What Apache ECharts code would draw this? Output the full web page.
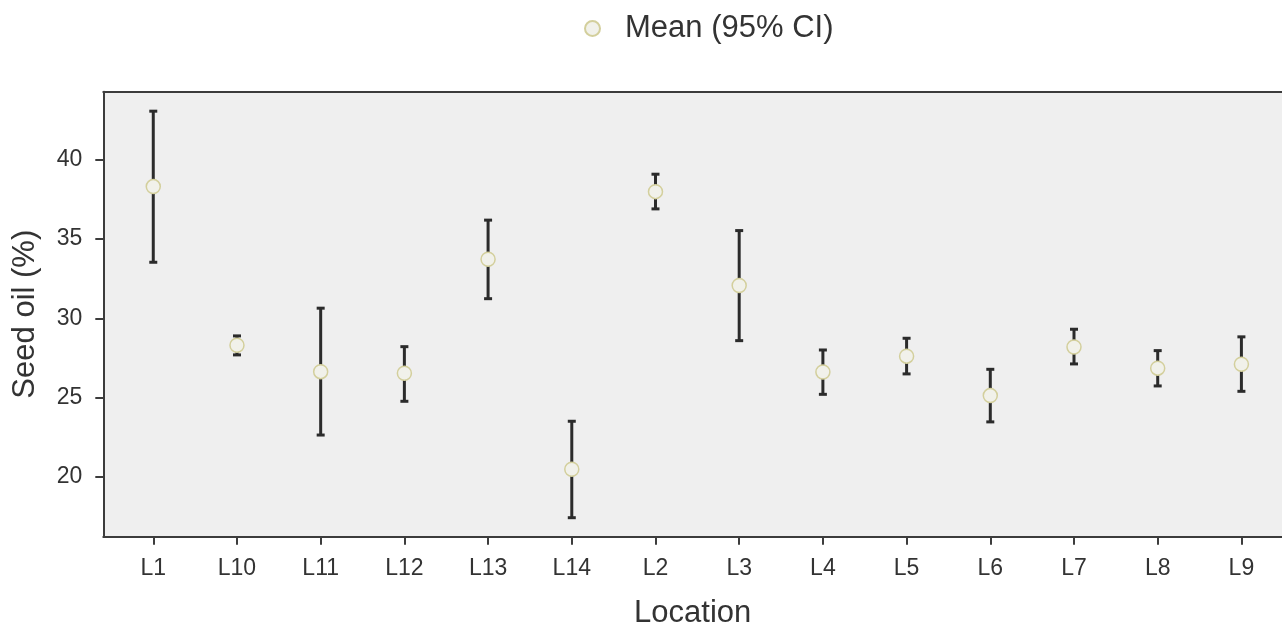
<!DOCTYPE html>
<html>
<head>
<meta charset="utf-8">
<script src="https://cdn.jsdelivr.net/npm/echarts@6/dist/echarts.min.js"></script>
<style>
html,body{margin:0;padding:0;background:#fff;}
#chart{width:1282px;height:626px;}
</style>
</head>
<body>
<div id="chart"></div>
<script>
const categories = ['L1','L10','L11','L12','L13','L14','L2','L3','L4','L5','L6','L7','L8','L9'];
const means = [38.32, 28.30, 26.63, 26.53, 33.73, 20.47, 38.00, 32.07, 26.61, 27.61, 25.12, 28.19, 26.85, 27.10];
const lower = [33.54, 27.69, 22.63, 24.76, 31.24, 17.41, 36.91, 28.59, 25.20, 26.49, 23.46, 27.12, 25.73, 25.39];
const upper = [43.08, 28.89, 30.64, 28.21, 36.20, 23.50, 39.10, 35.54, 28.00, 28.74, 26.78, 29.31, 27.96, 28.83];
const yTicks = [20, 25, 30, 35, 40];

const FONT = '"Liberation Sans", Arial, sans-serif';
const TXT = '#333333';
const AX = '#3c3c3c';
const idx = categories.map((c, i) => i);

const chart = echarts.init(document.getElementById('chart'), null, {renderer: 'canvas'});
chart.setOption({
  animation: false,
  backgroundColor: '#ffffff',
  textStyle: {fontFamily: FONT},
  legend: {
    left: 579, top: 8,
    itemWidth: 15, itemHeight: 15,
    textStyle: {fontFamily: FONT, fontSize: 31, color: TXT, padding: [0, 0, 0, 20]},
    data: [{name: 'Mean (95% CI)', icon: 'circle'}]
  },
  grid: {left: 103.3, right: 0, top: 91.7, bottom: 89.3, outerBoundsMode: 'none', containLabel: false,
    show: true, backgroundColor: '#efefef', borderWidth: 0},
  xAxis: [{
    type: 'value', min: -0.597, max: 13.485,
    name: 'Location', nameLocation: 'middle', nameGap: 61,
    nameTextStyle: {fontFamily: FONT, fontSize: 31, color: TXT},
    axisLine: {show: true, onZero: false, lineStyle: {color: AX, width: 2}},
    axisTick: {show: true, customValues: idx, length: 8, lineStyle: {color: AX, width: 2}},
    axisLabel: {customValues: idx, margin: 20, fontFamily: FONT, fontSize: 23, color: TXT,
      formatter: v => categories[Math.round(v)] || ''},
    splitLine: {show: false}
  }, {
    type: 'value', position: 'top', min: -0.597, max: 13.485,
    axisLine: {show: true, onZero: false, lineStyle: {color: AX, width: 2}},
    axisTick: {show: false}, axisLabel: {show: false}, splitLine: {show: false}
  }],
  yAxis: {
    type: 'value', min: 16.21, max: 44.31,
    name: 'Seed oil (%)', nameLocation: 'middle', nameGap: 62, nameRotate: 90,
    nameTextStyle: {fontFamily: FONT, fontSize: 31, color: TXT},
    axisLine: {show: true, onZero: false, lineStyle: {color: AX, width: 2}},
    axisTick: {show: true, customValues: yTicks, length: 8, lineStyle: {color: AX, width: 2}},
    axisLabel: {customValues: yTicks, margin: 21, fontFamily: FONT, fontSize: 23, color: TXT},
    splitLine: {show: false}
  },
  series: [{
    name: 'CI',
    type: 'custom',
    z: 2,
    data: idx.map(i => [i, lower[i], upper[i]]),
    renderItem: function (params, api) {
      const x = api.value(0);
      const lo = api.coord([x, api.value(1)]);
      const hi = api.coord([x, api.value(2)]);
      const cap = 4;
      const style = {stroke: '#2b2b2b', lineWidth: 3};
      return {
        type: 'group',
        children: [
          {type: 'line', shape: {x1: lo[0], y1: lo[1], x2: hi[0], y2: hi[1]}, style: style},
          {type: 'line', shape: {x1: lo[0] - cap, y1: lo[1], x2: lo[0] + cap, y2: lo[1]}, style: style},
          {type: 'line', shape: {x1: hi[0] - cap, y1: hi[1], x2: hi[0] + cap, y2: hi[1]}, style: style}
        ]
      };
    }
  }, {
    name: 'Mean (95% CI)',
    type: 'scatter',
    z: 3,
    symbol: 'circle',
    symbolSize: 14,
    itemStyle: {color: '#f1f1ea', borderColor: '#d3cf9c', borderWidth: 1.5, opacity: 1},
    data: idx.map(i => [i, means[i]])
  }]
});
</script>
</body>
</html>
